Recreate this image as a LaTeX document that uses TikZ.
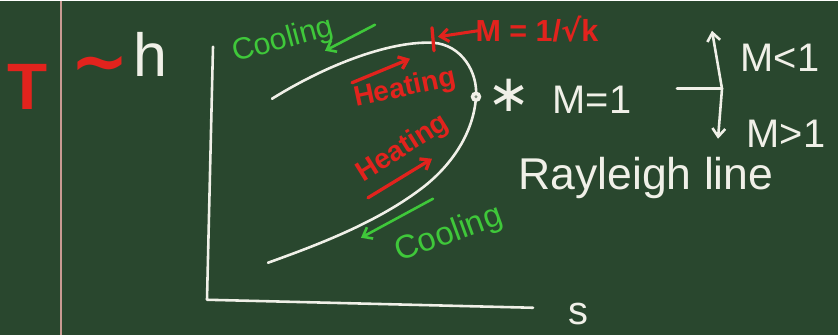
\documentclass[tikz,border=0pt]{standalone}
\usepackage{fontspec}
\setmainfont{Liberation Sans}
\newfontfamily\symbolfont{DejaVu Sans}
\usetikzlibrary{positioning,arrows.meta,calc}
\definecolor{Board}{HTML}{29472E}
\definecolor{Chalk}{HTML}{F0F0E8}
\definecolor{ChalkRed}{HTML}{E2231D}
\definecolor{ChalkGreen}{HTML}{3FC83A}
\definecolor{Margin}{HTML}{C99A92}
\newcommand{\chalkfont}[1]{\fontsize{#1}{#1}\selectfont}

\begin{document}
\begin{tikzpicture}[x=0.03cm, y=-0.03cm,
  every node/.style={inner sep=0pt, outer sep=0pt},
  chalk/.style={line width=2.2pt, line cap=round, line join=round},
  arr/.style={-{Straight Barb[length=7pt,width=11pt]}}]
\fill[Board] (0,0) rectangle (838,334);
\draw[Margin, line width=1.3pt] (61,0) -- (61,334);

% T ~ h
\node[ChalkRed, font=\chalkfont{56}\bfseries] (tsym) at (28,86) {T};
\node[ChalkRed, font=\symbolfont\chalkfont{60}\bfseries] (simsym) at (100,70) {∼};
\node[Chalk, font=\chalkfont{52}] (hsym) at (150,54) {h};

% axes
\coordinate (ytop) at (213,46);
\coordinate (origin) at (207,299);
\coordinate (xend) at (533,307);
\draw[chalk, Chalk] (ytop) -- (origin) -- (xend);
\node[Chalk, font=\chalkfont{34}] (slabel) at (578,313) {s};

% Rayleigh curve
\coordinate (upstart) at (272,98);
\coordinate (peak) at (433,42);
\coordinate (sonic) at (476,96);
\coordinate (lowbend) at (425,185);
\coordinate (lowend) at (268,262);
\draw[chalk, Chalk] (upstart) .. controls (330,62) and (392,40) .. (peak)
  .. controls (462,44) and (478,72) .. (sonic)
  .. controls (474,128) and (456,160) .. (lowbend)
  .. controls (378,222) and (315,245) .. (lowend);
\node[circle, fill=Chalk, minimum size=0.32cm] (sonicmark) at (sonic) {};
\fill[Board!60!Chalk] (sonicmark) circle (1.3pt);

% max temperature point
\coordinate (ticktop) at (432,27);
\coordinate (tickbot) at (434,50);
\draw[chalk, ChalkRed, line width=2.8pt] (ticktop) -- (tickbot);
\node[ChalkRed, font=\chalkfont{26}\bfseries] (mpeak) at (537,28) {M = 1/{\symbolfont √}k};
\coordinate (mfrom) at (478,30);
\coordinate (mto) at (438,36);
\draw[chalk, ChalkRed, line width=2.6pt, arr] (mfrom) -- (mto);

% heating / cooling, upper branch
\node[ChalkGreen, font=\chalkfont{26}, rotate=15] (coolup) at (283,40) {Cooling};
\coordinate (coolupA) at (375,24);
\coordinate (coolupB) at (325,50);
\draw[chalk, ChalkGreen, arr] (coolupA) -- (coolupB);
\node[ChalkRed, font=\chalkfont{24}\bfseries, rotate=12] (heatup) at (405,88) {Heating};
\coordinate (heatupA) at (352,82);
\coordinate (heatupB) at (410,58);
\draw[chalk, ChalkRed, line width=2.8pt, arr] (heatupA) -- (heatupB);

% heating / cooling, lower branch
\node[ChalkRed, font=\chalkfont{24}\bfseries, rotate=32] (heatlow) at (403,148) {Heating};
\coordinate (heatlowA) at (368,197);
\coordinate (heatlowB) at (432,158);
\draw[chalk, ChalkRed, line width=2.8pt, arr] (heatlowA) -- (heatlowB);
\node[ChalkGreen, font=\chalkfont{28}, rotate=20] (coollow) at (449,234) {Cooling};
\coordinate (coollowA) at (433,198);
\coordinate (coollowB) at (361,237);
\draw[chalk, ChalkGreen, arr] (coollowA) -- (coollowB);

% sonic point labels
\node[Chalk, font=\symbolfont\chalkfont{44}] (star) at (509,95) {∗};
\node[Chalk, font=\chalkfont{34}] (mone) at (592,99) {M=1};
\coordinate (branchL) at (677,88);
\coordinate (branch) at (722,88);
\coordinate (uptip) at (712,30);
\coordinate (downtip) at (718,138);
\draw[chalk, Chalk] (branchL) -- (branch);
\draw[chalk, Chalk, arr] (branch) -- (uptip);
\draw[chalk, Chalk, arr] (branch) -- (downtip);
\node[Chalk, font=\chalkfont{34}] (mless) at (780,57) {M<1};
\node[Chalk, font=\chalkfont{34}] (mmore) at (786,133) {M>1};
\node[Chalk, font=\chalkfont{38}] (rayleigh) at (646,177) {Rayleigh line};
\end{tikzpicture}
\end{document}
